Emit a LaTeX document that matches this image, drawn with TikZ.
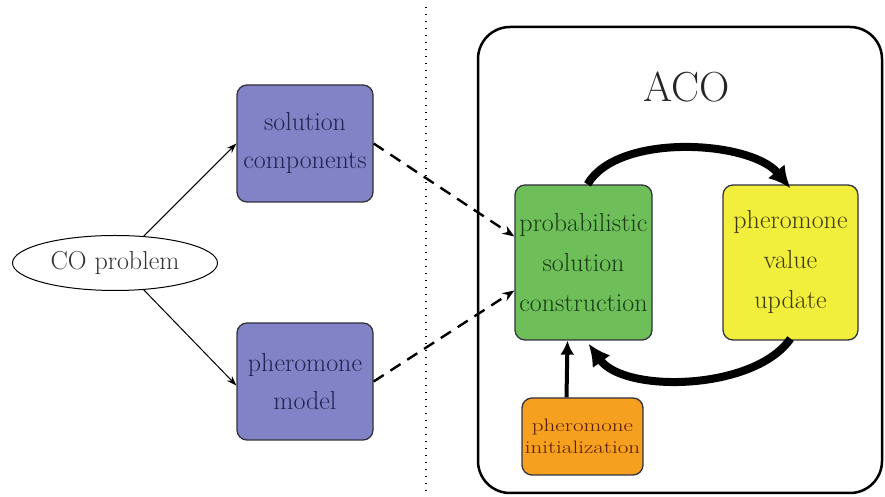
\documentclass[tikz,border=0pt]{standalone}
\usetikzlibrary{arrows.meta,shapes.geometric}
\definecolor{boxblue}{RGB}{130,130,198}
\definecolor{boxgreen}{RGB}{110,190,90}
\definecolor{boxyellow}{RGB}{242,238,60}
\definecolor{boxorange}{RGB}{246,160,32}
\definecolor{txtblue}{RGB}{35,35,80}
\definecolor{txtgreen}{RGB}{25,60,20}
\definecolor{txtyellow}{RGB}{60,60,10}
\definecolor{txtorange}{RGB}{90,30,0}
\definecolor{edgegray}{RGB}{50,50,60}
\begin{document}
\begin{tikzpicture}[x=1pt,y=1pt,
  compbox/.style={draw=edgegray, line width=1.3pt, rounded corners=10pt, minimum width=136pt, minimum height=117pt, inner sep=0pt, align=center, fill=boxblue, text=txtblue, font=\fontsize{26}{38}\selectfont},
  acobox/.style={draw=edgegray, line width=1.3pt, rounded corners=10pt, inner sep=0pt, align=center, font=\fontsize{26}{40}\selectfont},
  thinarrow/.style={line width=1pt, -{Stealth[length=10pt,width=7pt]}},
  dasharrow/.style={line width=2.4pt, dash pattern=on 12pt off 8pt, -{Stealth[length=12pt,width=9pt]}},
  cyclearrow/.style={line width=8pt, -{Latex[length=22pt,width=22pt]}},
  initarrow/.style={line width=4pt, -{Latex[length=14pt,width=14pt]}}
]
\useasboundingbox (0,0) rectangle (885,497);
% dotted separator
\coordinate (dtop) at (426,490);
\coordinate (dbot) at (426,0);
\draw[line width=1.5pt, dash pattern=on 1.5pt off 5.5pt] (dtop) -- (dbot);
% CO problem
\node[draw, ellipse, line width=1pt, minimum width=205pt, minimum height=55pt, inner sep=0pt, font=\fontsize{26}{28}\selectfont, text=black!80] (co) at (115,234) {CO problem};
\node[compbox] (sc) at (305,353.5) {solution\\components};
\node[compbox] (pm) at (305,115.5) {pheromone\\model};
% ACO frame
\node[draw=black, line width=2.5pt, rounded corners=32pt, minimum width=404pt, minimum height=466pt, inner sep=0pt] (frame) at (680,237) {};
\node[font=\fontsize{42}{46}\selectfont, text=black!85] (aco) at (687,410) {ACO};
\node[acobox, fill=boxgreen, text=txtgreen, minimum width=137pt, minimum height=155pt] (gr) at (583.5,234.5) {probabilistic\\solution\\construction};
\node[acobox, fill=boxyellow, text=txtyellow, minimum width=135pt, minimum height=155pt] (ye) at (790.5,234.5) {pheromone\\value\\update};
\node[acobox, fill=boxorange, text=txtorange, minimum width=121pt, minimum height=77pt, font=\fontsize{18}{22}\selectfont] (or) at (582.5,60.5) {\scalebox{1.28}[1]{pheromone}\\\scalebox{1.28}[1]{initialization}};
% connectors
\draw[thinarrow] (co.43) -- (sc.west);
\draw[thinarrow] (co.-43) -- ([yshift=-4pt]pm.west);
\draw[dasharrow] (sc.east) -- ([yshift=26pt]gr.west);
\draw[dasharrow] (pm.east) -- ([yshift=-28pt]gr.west);
\draw[cyclearrow] ([xshift=4pt]gr.north) .. controls +(30,52) and +(-40,48) .. ([yshift=-4pt]ye.north);
\draw[cyclearrow] ([yshift=2pt]ye.south) .. controls +(-36,-52) and +(36,-50) .. ([xshift=5pt,yshift=-3pt]gr.south);
\draw[initarrow] ([xshift=-16pt]or.north) -- ([xshift=-16pt]gr.south);
\end{tikzpicture}
\end{document}
